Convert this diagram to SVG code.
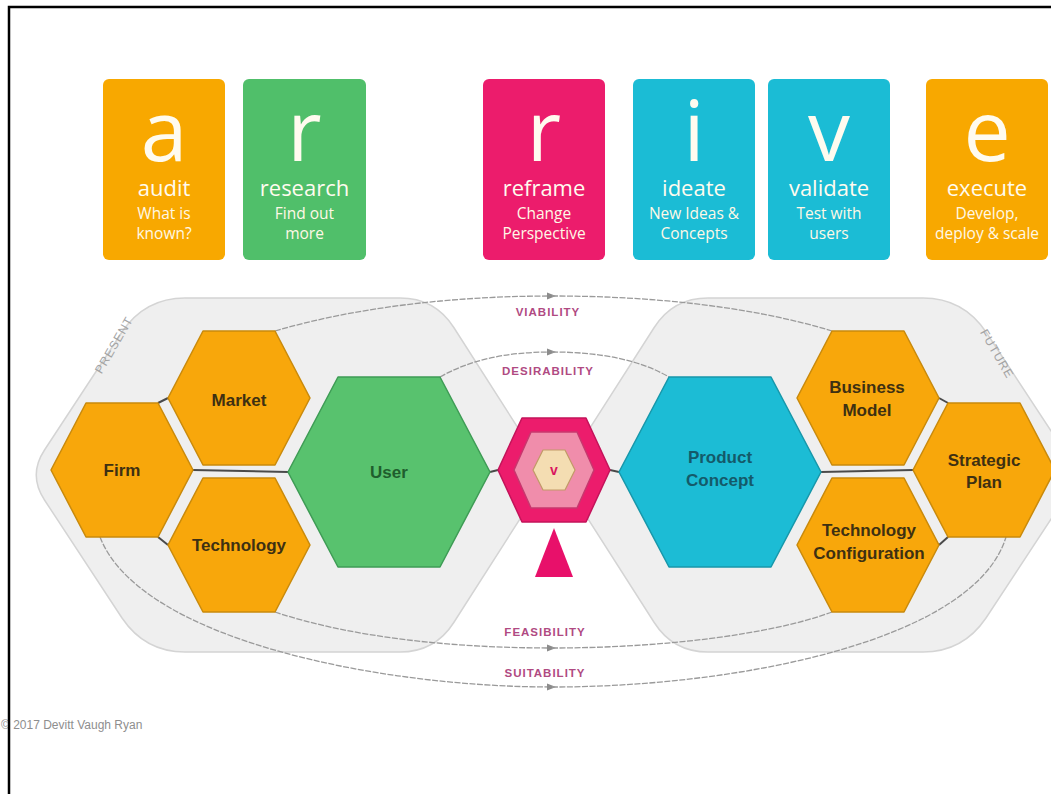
<svg xmlns="http://www.w3.org/2000/svg" width="1051" height="794" viewBox="0 0 1051 794">
<defs>
<style>
.big{font-family:"Open Sans","Liberation Sans",sans-serif;font-weight:400;font-size:84px;fill:#FFFBEF;text-anchor:middle}
.word{font-family:"Open Sans","Liberation Sans",sans-serif;font-weight:400;font-size:22px;fill:#FFFBEF;text-anchor:middle}
.sub{font-family:"Open Sans","Liberation Sans",sans-serif;font-weight:400;font-size:15.5px;fill:#FFF8E6;text-anchor:middle}
.region{fill:#EFEFEF;stroke:#D4D4D4;stroke-width:1.5}
.rlab{font-family:"Liberation Sans",Arial,sans-serif;font-size:12px;fill:#A3A3A3;letter-spacing:1px;text-anchor:middle}
.orange{fill:#F8A70B;stroke:#C98A0C;stroke-width:1.5;stroke-linejoin:round}
.green{fill:#58C26E;stroke:#3E9C55;stroke-width:1.5;stroke-linejoin:round}
.cyan{fill:#1CBCD5;stroke:#1797AA;stroke-width:1.5;stroke-linejoin:round}
.nt{font-family:"Liberation Sans",Arial,sans-serif;font-weight:bold;font-size:17px;text-anchor:middle}
.nto{fill:#3E3012}
.flow{fill:none;stroke:#9A9A9A;stroke-width:1.3;stroke-dasharray:6 1.5}
.flab{font-family:"Liberation Sans",Arial,sans-serif;font-weight:bold;font-size:11.5px;fill:#B04A82;letter-spacing:1px;text-anchor:middle}
.link{stroke:#4A4A4A;stroke-width:2;fill:none}
</style>
<marker id="arr" viewBox="0 -4 9 8" refX="5" refY="0" markerWidth="9" markerHeight="8" markerUnits="userSpaceOnUse" orient="auto">
<path d="M0,-3.5 L9,0 L0,3.5 Z" fill="#8C8C8C"/>
</marker>
</defs>
<rect width="1051" height="794" fill="#FFFFFF"/>

<!-- top phase cards -->
<g id="card-audit">
<rect x="103" y="79" width="122" height="181" rx="6" fill="#F8A800"/>
<text class="big" x="164" y="161">a</text>
<text class="word" x="164" y="196">audit</text>
<text class="sub" x="164" y="219">What is</text>
<text class="sub" x="164" y="239">known?</text>
</g>
<g id="card-research">
<rect x="243" y="79" width="123" height="181" rx="6" fill="#50BF6A"/>
<text class="big" x="304.5" y="161">r</text>
<text class="word" x="304.5" y="196">research</text>
<text class="sub" x="304.5" y="219">Find out</text>
<text class="sub" x="304.5" y="239">more</text>
</g>
<g id="card-reframe">
<rect x="483" y="79" width="122" height="181" rx="6" fill="#EC1C6C"/>
<text class="big" x="544" y="161">r</text>
<text class="word" x="544" y="196">reframe</text>
<text class="sub" x="544" y="219">Change</text>
<text class="sub" x="544" y="239">Perspective</text>
</g>
<g id="card-ideate">
<rect x="633" y="79" width="122" height="181" rx="6" fill="#1BBCD5"/>
<text class="big" x="694" y="161">i</text>
<text class="word" x="694" y="196">ideate</text>
<text class="sub" x="694" y="219">New Ideas &amp;</text>
<text class="sub" x="694" y="239">Concepts</text>
</g>
<g id="card-validate">
<rect x="768" y="79" width="122" height="181" rx="6" fill="#1BBCD5"/>
<text class="big" x="829" y="161">v</text>
<text class="word" x="829" y="196">validate</text>
<text class="sub" x="829" y="219">Test with</text>
<text class="sub" x="829" y="239">users</text>
</g>
<g id="card-execute">
<rect x="926" y="79" width="122" height="181" rx="6" fill="#F8A800"/>
<text class="big" x="987" y="161">e</text>
<text class="word" x="987" y="196">execute</text>
<text class="sub" x="987" y="219">Develop,</text>
<text class="sub" x="987" y="239">deploy &amp; scale</text>
</g>

<!-- regions -->
<g id="region-present">
<path class="region" d="M185,298 L400,298 Q435,298 453.8,327.5 L531.9,449.7 Q548,475 531.9,500.3 L453.8,622.5 Q435,652 400,652 L185,652 Q145,652 122,618 L44.5,500 Q28,475 44.5,450 L122,332 Q145,298 185,298 Z"/>
<text class="rlab" transform="translate(114,345) rotate(-60)" y="4">PRESENT</text>
</g>
<g id="region-future">
<path class="region" d="M923,298 L708,298 Q673,298 654.2,327.5 L576.1,449.7 Q560,475 576.1,500.3 L654.2,622.5 Q673,652 708,652 L923,652 Q963,652 986,618 L1063.5,500 Q1080,475 1063.5,450 L986,332 Q963,298 923,298 Z"/>
<text class="rlab" transform="translate(997,354) rotate(60)" y="4">FUTURE</text>
</g>

<!-- connectors -->
<g id="connectors">
<g id="flow-viability">
<path class="flow" d="M275,331 C360,306 460,296 552,296" marker-end="url(#arr)"/>
<path class="flow" d="M552,296 C650,296 750,306 832,331"/>
<text class="flab" x="548" y="316">VIABILITY</text>
</g>
<g id="flow-desirability">
<path class="flow" d="M440,377 C470,360 505,352 552,352" marker-end="url(#arr)"/>
<path class="flow" d="M552,352 C600,352 640,360 669,377"/>
<text class="flab" x="548" y="375">DESIRABILITY</text>
</g>
<g id="flow-feasibility">
<path class="flow" d="M275,612 C350,637 450,648 552,648" marker-end="url(#arr)"/>
<path class="flow" d="M552,648 C660,648 770,635 832,612"/>
<text class="flab" x="545" y="636">FEASIBILITY</text>
</g>
<g id="flow-suitability">
<path class="flow" d="M100,537 C140,640 380,687 552,687" marker-end="url(#arr)"/>
<path class="flow" d="M552,687 C740,687 975,640 1006,537"/>
<text class="flab" x="545" y="677">SUITABILITY</text>
</g>
<line class="link" x1="193" y1="470" x2="288" y2="472"/>
<line class="link" x1="158" y1="403" x2="168" y2="398"/>
<line class="link" x1="158" y1="537" x2="168" y2="545"/>
<line class="link" x1="490" y1="472" x2="498" y2="470"/>
<line class="link" x1="610" y1="470" x2="619" y2="472"/>
<line class="link" x1="821" y1="472" x2="913" y2="470"/>
<line class="link" x1="939" y1="398" x2="948" y2="403"/>
<line class="link" x1="939" y1="545" x2="948" y2="537"/>
</g>

<!-- nodes -->
<g id="node-firm">
<polygon class="orange" points="51,470 86,403 158,403 193,470 158,537 86,537"/>
<text class="nt nto" x="122" y="476">Firm</text>
</g>
<g id="node-market">
<polygon class="orange" points="168,398 203,331 275,331 310,398 275,465 203,465"/>
<text class="nt nto" x="239" y="406">Market</text>
</g>
<g id="node-technology">
<polygon class="orange" points="168,545 203,478 275,478 310,545 275,612 203,612"/>
<text class="nt nto" x="239" y="551">Technology</text>
</g>
<g id="node-user">
<polygon class="green" points="288,472 338,377 440,377 490,472 440,567 338,567"/>
<text class="nt" x="389" y="478" fill="#1F5E2D">User</text>
</g>
<g id="node-v">
<polygon points="498,470 522,418 586,418 610,470 586,522 522,522" fill="#EC1C6C" stroke="#C3135A" stroke-width="1.5" stroke-linejoin="round"/>
<polygon points="514,470 531,432 577,432 594,470 577,508 531,508" fill="#F08DAB" stroke="#C8376E" stroke-width="1.5" stroke-linejoin="round"/>
<polygon points="533,470 543,450 565,450 575,470 565,490 543,490" fill="#F4DDB2" stroke="#C29A68" stroke-width="1.2" stroke-linejoin="round"/>
<text x="554" y="475" font-family="Liberation Sans, Arial, sans-serif" font-weight="bold" font-size="14" fill="#D9165F" text-anchor="middle">v</text>
<polygon points="554,528 535,577 573,577" fill="#E8106A"/>
</g>
<g id="node-product-concept">
<polygon class="cyan" points="619,472 669,377 771,377 821,472 771,567 669,567"/>
<text class="nt" x="720" y="463" fill="#145A6A">Product</text>
<text class="nt" x="720" y="486" fill="#145A6A">Concept</text>
</g>
<g id="node-business-model">
<polygon class="orange" points="797,398 832,331 904,331 939,398 904,465 832,465"/>
<text class="nt nto" x="867" y="393">Business</text>
<text class="nt nto" x="867" y="416">Model</text>
</g>
<g id="node-technology-configuration">
<polygon class="orange" points="797,545 832,478 904,478 939,545 904,612 832,612"/>
<text class="nt nto" x="869" y="536">Technology</text>
<text class="nt nto" x="869" y="559">Configuration</text>
</g>
<g id="node-strategic-plan">
<polygon class="orange" points="913,470 948,403 1020,403 1055,470 1020,537 948,537"/>
<text class="nt nto" x="984" y="466">Strategic</text>
<text class="nt nto" x="984" y="488">Plan</text>
</g>

<text x="1" y="729" font-family="Liberation Sans, Arial, sans-serif" font-size="12" fill="#8E8E8E">© 2017 Devitt Vaugh Ryan</text>
<path d="M9,794 V7 H1051" fill="none" stroke="#000000" stroke-width="2.5"/>
</svg>
